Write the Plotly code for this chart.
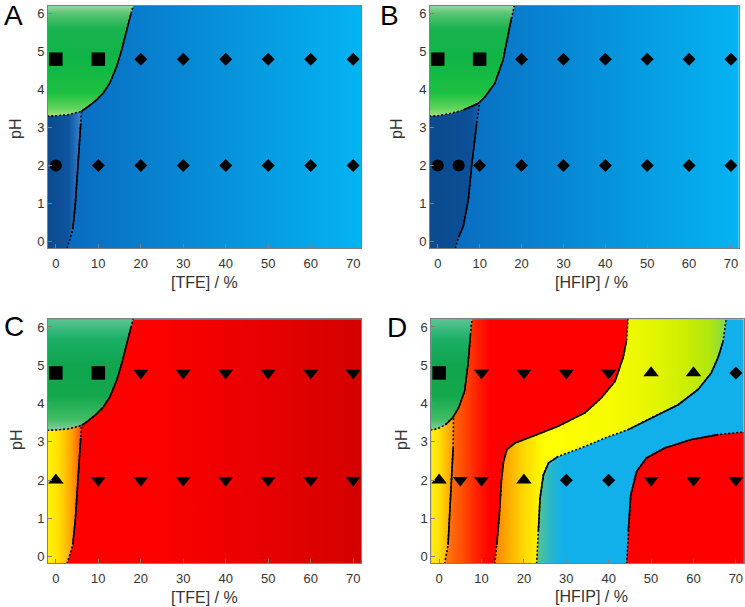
import plotly.graph_objects as go


# -----------------------------
# Axes
# -----------------------------
PCT_TICKS = [0, 10, 20, 30, 40, 50, 60, 70]
PH_TICKS = [0, 1, 2, 3, 4, 5, 6]
X_RANGE = [-1.85, 71.85]
Y_RANGE = [-0.17, 6.2]

# region polygons are closed just outside the visible window
X_LO, X_HI = -3, 73
Y_LO, Y_HI = -0.6, 6.6

# -----------------------------
# Phase boundaries (x = % cosolvent, y = pH)
# -----------------------------
TFE_GREEN_X = [-3, 0, 3, 6.05, 7.6, 9.6, 11.1, 12.7, 14.3, 15.5, 16.5, 17.7, 18.2, 19.1]
TFE_GREEN_Y = [3.3, 3.31, 3.34, 3.43, 3.55, 3.73, 3.9, 4.17, 4.6, 5.04, 5.48, 6.0, 6.2, 6.6]
TFE_LOW_X = [2.4, 2.7, 3.3, 4.0, 4.6, 5.2, 5.65, 5.85, 6.05]
TFE_LOW_Y = [-0.6, -0.14, 0.05, 0.33, 1.0, 2.0, 2.85, 3.1, 3.43]

HFIP_GREEN_X = [-3, 0, 3.4, 6.1, 8.0, 9.7, 11.3, 13.6, 15.6, 16.8, 17.6, 18.2, 19.0]
HFIP_GREEN_Y = [3.3, 3.31, 3.38, 3.46, 3.55, 3.64, 3.81, 4.16, 4.78, 5.48, 5.89, 6.2, 6.6]
HFIP_LOW_X = [3.8, 4.2, 5.0, 6.1, 7.3, 8.1, 9.3, 9.7, 10.0]
HFIP_LOW_Y = [-0.6, -0.17, 0.12, 0.4, 1.1, 2.0, 3.11, 3.4, 3.67]

D_GREEN_X = [-3, -1.3, 0, 1.5, 3.2, 4.6, 6.0, 6.8, 7.4, 7.8, 8.05]
D_GREEN_Y = [3.3, 3.32, 3.36, 3.45, 3.63, 3.89, 4.32, 5.02, 5.81, 6.2, 6.6]
D_LINE1_X = [1.0, 1.3, 2.1, 2.5, 2.9, 3.3, 3.4]
D_LINE1_Y = [-0.6, -0.17, 0.31, 1.09, 2.0, 2.84, 3.67]
D_LINE2_X = [12.9, 13.1, 13.6, 14.2, 14.7, 15.2, 16.0, 17.9, 21.9, 28.1, 34.4, 38.3, 41.5, 43.4, 44.2, 44.6, 44.8]
D_LINE2_Y = [-0.6, -0.17, 0.31, 1.09, 2.0, 2.49, 2.8, 2.97, 3.14, 3.41, 3.76, 4.15, 4.58, 5.2, 5.63, 6.2, 6.6]
D_LINE3_X = [22.9, 23.0, 23.4, 23.8, 24.6, 25.8, 28.1, 34.4, 39.1, 44.6, 50.1, 56.4, 61.1, 64.2, 65.8, 67.0, 67.7, 68.1]
D_LINE3_Y = [-0.6, -0.17, 0.66, 1.53, 2.14, 2.45, 2.62, 2.88, 3.10, 3.32, 3.63, 3.97, 4.37, 4.8, 5.2, 5.63, 6.2, 6.6]
D_LINE4_X = [44.0, 44.2, 44.6, 45.2, 46.6, 48.9, 53.2, 59.5, 65.8, 72.0, 73.0]
D_LINE4_Y = [-0.6, -0.17, 0.66, 1.62, 2.23, 2.58, 2.84, 3.06, 3.19, 3.26, 3.27]

# -----------------------------
# Measured conditions (markers)
# -----------------------------
ROW_X = [0, 10, 20, 30, 40, 50, 60, 70]
ROW_X_B = [0, 5, 10, 20, 30, 40, 50, 60, 70]
D_ROW_X = [0, 5, 10, 20, 30, 40, 50, 60, 70]

A_SYM_HI = ["square", "square", "diamond", "diamond", "diamond", "diamond", "diamond", "diamond"]
A_SYM_LO = ["circle", "diamond", "diamond", "diamond", "diamond", "diamond", "diamond", "diamond"]
B_SYM_HI = ["square", "square", "diamond", "diamond", "diamond", "diamond", "diamond", "diamond"]
B_SYM_LO = ["circle", "circle", "diamond", "diamond", "diamond", "diamond", "diamond", "diamond", "diamond"]
C_SYM_HI = ["square", "square", "triangle-down", "triangle-down", "triangle-down",
            "triangle-down", "triangle-down", "triangle-down"]
C_SYM_LO = ["triangle-up", "triangle-down", "triangle-down", "triangle-down", "triangle-down",
            "triangle-down", "triangle-down", "triangle-down"]
D_SYM_HI = ["square", "triangle-down", "triangle-down", "triangle-down", "triangle-down",
            "triangle-up", "triangle-up", "diamond"]
D_SYM_LO = ["triangle-up", "triangle-down", "triangle-down", "triangle-up", "diamond",
            "diamond", "triangle-down", "triangle-down", "triangle-down"]

PH_HI = 4.8
PH_LO = 2.0

SYMBOL_SIZE = {"square": 13.5, "diamond": 10, "circle": 12, "triangle-down": 13, "triangle-up": 13.5}

# -----------------------------
# Colours (gradient stops in axis units)
# -----------------------------
BLUE_BG = [(-2, "#0a66bd"), (72, "#04b4f2")]
DARK_BLUE_A = [(-2, "#0b4a8e"), (3, "#0c559f"), (6.1, "#3a86d2")]
DARK_BLUE_B = [(-2, "#0b4a8e"), (8, "#0b5098"), (10, "#1a62ae")]
GREEN_AB = [(3.3, "#a2e27c"), (3.5, "#62d45c"), (3.9, "#1cc140"), (4.8, "#10b546"),
            (5.6, "#18b24e"), (6.0, "#58c472"), (6.2, "#98d8a0")]
GREEN_CD = [(3.3, "#86d09a"), (3.6, "#40bb66"), (4.2, "#14a84c"), (5.0, "#0ea54e"),
            (5.7, "#1cb068"), (6.2, "#5cc494")]
RED_BG = [(-2, "#ff0000"), (25, "#fc0000"), (72, "#d40000")]
YELLOW_C = [(-2, "#fff200"), (0, "#ffe800"), (2, "#ffc800"), (4, "#ff9a00"), (5.5, "#ff6000"), (6.2, "#ff3000")]
D_BLUE = [(23, "#5cc48a"), (26, "#2cb8c4"), (29, "#12b0ea")]
D_BAND = [(13, "#ff8000"), (16, "#ffa800"), (20, "#ffd800"), (25, "#ffff00"), (40, "#f8fc00"),
          (50, "#e6f600"), (58, "#ccee00"), (64, "#b0e610"), (68, "#78d850")]
D_RED1 = [(1, "#ff7a10"), (2.5, "#ff7010"), (6, "#ff4800"), (9, "#ff2000"), (12, "#ff0000")]
D_YELLOW = [(-2, "#fff020"), (0, "#ffe000"), (1.5, "#ffc000"), (3, "#ffa000")]
D_RED2 = [(44, "#ff0000"), (72, "#ff0000")]

# page pixels; the body margin is removed after plotting so the figure sits at (0, 0)
W, H = 745, 607
PANEL_PX = {
    1: (48, 361, 6, 248),
    2: (430, 738.7, 6, 248),
    3: (48, 361, 319.3, 563.3),
    4: (431.3, 743.7, 319.3, 563.3),
}


def px_x(px):
    return min(max(px / W, 0), 1)


def px_y(py):
    return min(max(1 - py / H, 0), 1)


def axes(i):
    s = "" if i == 1 else str(i)
    return "x" + s, "y" + s


def grad(stops, kind="horizontal"):
    lo, hi = stops[0][0], stops[-1][0]
    scale = [[(v - lo) / (hi - lo), c] for v, c in stops]
    return dict(type=kind, colorscale=scale, start=lo, stop=hi)


def add_region(fig, i, xs, ys, stops, kind="horizontal"):
    xa, ya = axes(i)
    fig.add_trace(go.Scatter(
        x=xs, y=ys, xaxis=xa, yaxis=ya, mode="none", fill="toself",
        fillgradient=grad(stops, kind), hoverinfo="skip", showlegend=False,
    ))


def add_boundary(fig, i, xs, ys, solid):
    xa, ya = axes(i)
    fig.add_trace(go.Scatter(
        x=xs, y=ys, xaxis=xa, yaxis=ya, mode="lines",
        line=dict(color="black", width=1.6, dash="2px,2px"),
        hoverinfo="skip", showlegend=False,
    ))
    for i0, i1 in solid:
        fig.add_trace(go.Scatter(
            x=xs[i0:i1 + 1], y=ys[i0:i1 + 1], xaxis=xa, yaxis=ya, mode="lines",
            line=dict(color="black", width=1.6),
            hoverinfo="skip", showlegend=False,
        ))


def add_markers(fig, i, xs, ph, symbols):
    xa, ya = axes(i)
    fig.add_trace(go.Scatter(
        x=xs, y=[ph] * len(xs), xaxis=xa, yaxis=ya, mode="markers", cliponaxis=False,
        marker=dict(symbol=symbols, size=[SYMBOL_SIZE[s] for s in symbols], color="black",
                    opacity=1, line=dict(width=0)),
        hoverinfo="skip", showlegend=False,
    ))


def rect():
    return [X_LO, X_HI, X_HI, X_LO], [Y_LO, Y_LO, Y_HI, Y_HI]


def below_green(gx, gy, lx, ly):
    # region under the green curve, left of the low-pH boundary line
    pts = [(x, y) for x, y in zip(gx, gy) if x < lx[-1]]
    pts.reverse()
    xs = [X_LO] + list(lx) + [p[0] for p in pts]
    ys = [Y_LO] + list(ly) + [p[1] for p in pts]
    return xs, ys


def green_poly(gx, gy):
    return list(gx) + [X_LO], list(gy) + [Y_HI]


def label(text, px, py, size, color, angle=0):
    return dict(text=text, x=px_x(px), y=px_y(py), xref="paper", yref="paper",
                xanchor="center", yanchor="middle", showarrow=False, textangle=angle,
                font=dict(size=size, color=color))


def main():
    fig = go.Figure()

    # -----------------------------
    # Panel A: TFE, blue
    # -----------------------------
    add_region(fig, 1, *rect(), BLUE_BG)
    add_region(fig, 1, *below_green(TFE_GREEN_X, TFE_GREEN_Y, TFE_LOW_X, TFE_LOW_Y), DARK_BLUE_A)
    add_region(fig, 1, *green_poly(TFE_GREEN_X, TFE_GREEN_Y), GREEN_AB, "vertical")
    add_boundary(fig, 1, TFE_GREEN_X, TFE_GREEN_Y, [(3, 11)])
    add_boundary(fig, 1, TFE_LOW_X, TFE_LOW_Y, [(3, 7)])
    add_markers(fig, 1, ROW_X, PH_HI, A_SYM_HI)
    add_markers(fig, 1, ROW_X, PH_LO, A_SYM_LO)

    # -----------------------------
    # Panel B: HFIP, blue
    # -----------------------------
    add_region(fig, 2, *rect(), BLUE_BG)
    add_region(fig, 2, *below_green(HFIP_GREEN_X, HFIP_GREEN_Y, HFIP_LOW_X, HFIP_LOW_Y), DARK_BLUE_B)
    add_region(fig, 2, *green_poly(HFIP_GREEN_X, HFIP_GREEN_Y), GREEN_AB, "vertical")
    add_boundary(fig, 2, HFIP_GREEN_X, HFIP_GREEN_Y, [(3, 10)])
    add_boundary(fig, 2, HFIP_LOW_X, HFIP_LOW_Y, [(2, 6)])
    add_markers(fig, 2, ROW_X, PH_HI, B_SYM_HI)
    add_markers(fig, 2, ROW_X_B, PH_LO, B_SYM_LO)

    # -----------------------------
    # Panel C: TFE, red
    # -----------------------------
    add_region(fig, 3, *rect(), RED_BG)
    add_region(fig, 3, *below_green(TFE_GREEN_X, TFE_GREEN_Y, TFE_LOW_X, TFE_LOW_Y), YELLOW_C)
    add_region(fig, 3, *green_poly(TFE_GREEN_X, TFE_GREEN_Y), GREEN_CD, "vertical")
    add_boundary(fig, 3, TFE_GREEN_X, TFE_GREEN_Y, [(3, 11)])
    add_boundary(fig, 3, TFE_LOW_X, TFE_LOW_Y, [(3, 7)])
    add_markers(fig, 3, ROW_X, PH_HI, C_SYM_HI)
    add_markers(fig, 3, ROW_X, PH_LO, C_SYM_LO)

    # -----------------------------
    # Panel D: HFIP, mixed
    # -----------------------------
    add_region(fig, 4, *rect(), D_BLUE)
    add_region(fig, 4, [X_LO] + D_LINE3_X + [X_LO], [Y_LO] + D_LINE3_Y + [Y_HI], D_BAND)
    add_region(fig, 4, [X_LO] + D_LINE2_X + [X_LO], [Y_LO] + D_LINE2_Y + [Y_HI], D_RED1)
    add_region(fig, 4, D_LINE4_X + [X_HI], D_LINE4_Y + [Y_LO], D_RED2)
    add_region(fig, 4, *below_green(D_GREEN_X, D_GREEN_Y, D_LINE1_X, D_LINE1_Y), D_YELLOW)
    add_region(fig, 4, *green_poly(D_GREEN_X, D_GREEN_Y), GREEN_CD, "vertical")
    add_boundary(fig, 4, D_GREEN_X, D_GREEN_Y, [(3, 8)])
    add_boundary(fig, 4, D_LINE1_X, D_LINE1_Y, [(2, 5)])
    add_boundary(fig, 4, D_LINE2_X, D_LINE2_Y, [(2, 14)])
    add_boundary(fig, 4, D_LINE3_X, D_LINE3_Y, [(2, 6), (9, 15)])
    add_boundary(fig, 4, D_LINE4_X, D_LINE4_Y, [(2, 8)])
    add_markers(fig, 4, ROW_X, PH_HI, D_SYM_HI)
    add_markers(fig, 4, D_ROW_X, PH_LO, D_SYM_LO)

    # -----------------------------
    # Axes layout
    # -----------------------------
    common = dict(
        showline=True, linecolor="#808080", linewidth=1, mirror=True,
        ticks="inside", ticklen=4, tickcolor="#808080", tickwidth=1,
        showgrid=False, zeroline=False,
        tickfont=dict(size=13, color="#333333"),
    )
    layout_axes = {}
    for i, (x0, x1, y0, y1) in PANEL_PX.items():
        s = "" if i == 1 else str(i)
        layout_axes["xaxis" + s] = dict(common, domain=[px_x(x0), px_x(x1)], range=X_RANGE,
                                        anchor="y" + s, tickvals=PCT_TICKS, ticklabelstandoff=3)
        layout_axes["yaxis" + s] = dict(common, domain=[px_y(y1), px_y(y0)], range=Y_RANGE,
                                        anchor="x" + s, tickvals=PH_TICKS)

    notes = []
    for letter, px, py in [("A", 14, 16), ("B", 389.5, 16), ("C", 14, 326), ("D", 397, 327)]:
        notes.append(label(letter, px, py, 28, "black"))
    for text, px, py in [("[TFE] / %", 204.5, 282), ("[HFIP] / %", 591, 282),
                         ("[TFE] / %", 204.5, 597), ("[HFIP] / %", 591, 596)]:
        notes.append(label(text, px, py, 16, "#333333"))
    for px, py in [(15, 129), (396, 129), (16, 440), (401, 440)]:
        notes.append(label("pH", px, py, 16, "#333333", -90))

    fig.update_layout(
        width=W, height=H,
        margin=dict(l=0, r=0, t=0, b=0),
        paper_bgcolor="white", plot_bgcolor="white",
        font=dict(family="Liberation Sans, Arial, sans-serif"),
        annotations=notes,
        **layout_axes,
    )

    fig.write_html(
        "out.html",
        config={"displayModeBar": False},
        post_script="document.body.style.margin = '0';",
    )


if __name__ == "__main__":
    main()
